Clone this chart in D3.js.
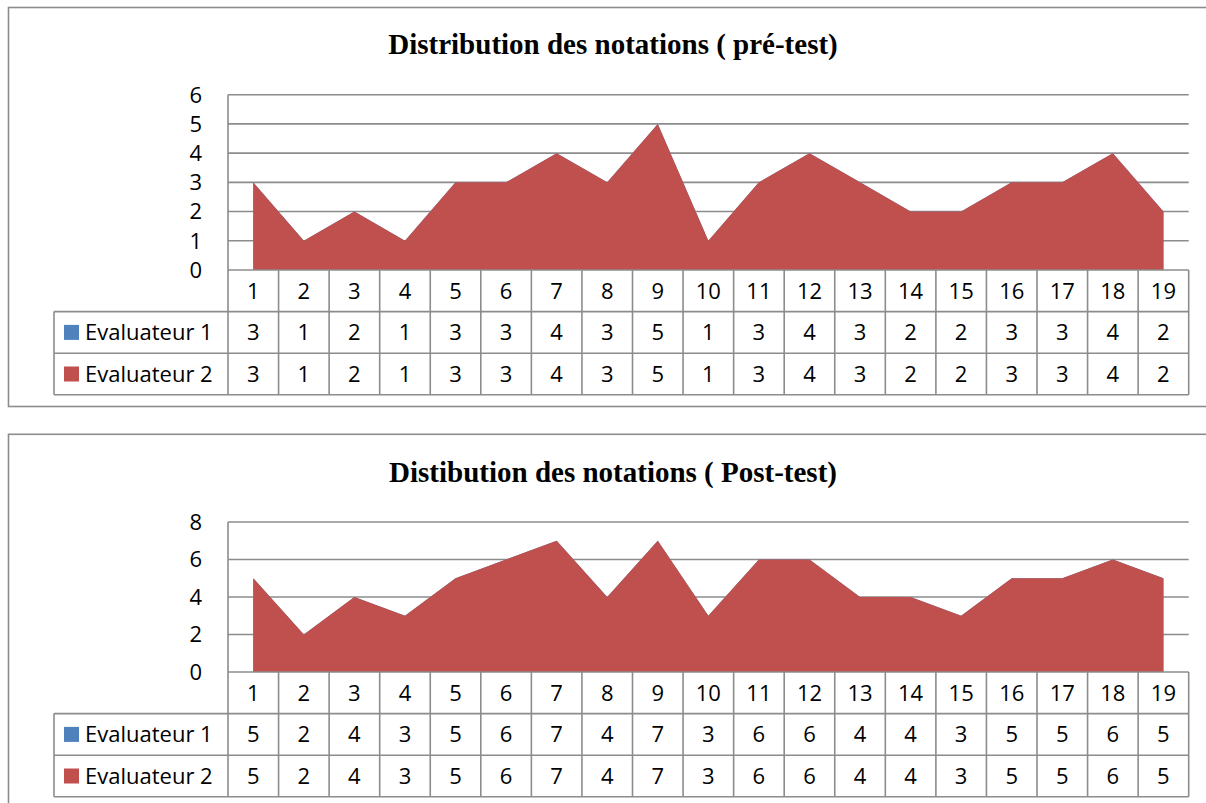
<!doctype html>
<html>
<head>
<meta charset="utf-8">
<style>
body { margin: 0; background: #fff; }
text { font-family: "Open Sans", sans-serif; fill: #000; }
.title { font-family: "Liberation Serif", "Times New Roman", serif; font-weight: bold; font-size: 29px; }
.grid line { stroke: #8c8c8c; stroke-width: 1.6; }
.tbl line { stroke: #8c8c8c; stroke-width: 1.6; }
</style>
<script src="https://d3js.org/d3.v7.min.js"></script>
</head>
<body>
<svg width="1206" height="803"></svg>
<script>

var categories = ["1","2","3","4","5","6","7","8","9","10","11","12","13","14","15","16","17","18","19"];
var seriesNames = ["Evaluateur 1", "Evaluateur 2"];
var seriesColors = ["#4f81bd", "#c0504d"];

var preEval1 = [3,1,2,1,3,3,4,3,5,1,3,4,3,2,2,3,3,4,2];
var preEval2 = [3,1,2,1,3,3,4,3,5,1,3,4,3,2,2,3,3,4,2];
var preTicks = [0,1,2,3,4,5,6];

var postEval1 = [5,2,4,3,5,6,7,4,7,3,6,6,4,4,3,5,5,6,5];
var postEval2 = [5,2,4,3,5,6,7,4,7,3,6,6,4,4,3,5,5,6,5];
var postTicks = [0,2,4,6,8];

var svg = d3.select("svg");
var fs = "22px";

function drawChart(o) {
    var g = svg.append("g");
    // outer frame
    g.append("rect")
     .attr("x", 8.5).attr("y", o.boxTop)
     .attr("width", 1210).attr("height", o.boxH)
     .attr("fill", "none").attr("stroke", "#8c8c8c").attr("stroke-width", 1.6);

    g.append("text").attr("class", "title")
     .attr("x", 613).attr("y", o.titleY)
     .attr("text-anchor", "middle")
     .text(o.title);

    var left = 228, right = 1188.7;
    var x = d3.scaleBand().domain(categories).range([left, right]).padding(0);
    var y = d3.scaleLinear().domain([0, d3.max(o.ticks)]).range([o.plotBottom, o.plotTop]);

    // gridlines
    var grid = g.append("g").attr("class", "grid");
    grid.selectAll("line").data(o.ticks.filter(function(t) { return t > 0; }))
        .enter().append("line")
        .attr("x1", left).attr("x2", right)
        .attr("y1", function(d) { return y(d); })
        .attr("y2", function(d) { return y(d); });

    // y tick labels
    g.selectAll(".ytick").data(o.ticks).enter().append("text")
     .attr("class", "ytick")
     .attr("x", 202).attr("y", function(d) { return y(d); })
     .attr("dy", "0.36em")
     .attr("text-anchor", "end")
     .attr("font-size", fs)
     .text(function(d) { return d; });

    // areas (series 1 behind series 2)
    var series = [o.s1, o.s2];
    series.forEach(function(vals, si) {
        var area = d3.area()
            .x(function(d, i) { return x(categories[i]) + x.bandwidth() / 2; })
            .y0(y(0))
            .y1(function(d) { return y(d); });
        g.append("path").datum(vals)
         .attr("d", area)
         .attr("fill", seriesColors[si]);
    });

    // data table
    var rowH = o.rowH;
    var t0 = o.plotBottom;
    var tbl = g.append("g").attr("class", "tbl");
    var legLeft = 54;
    tbl.append("line").attr("x1", left).attr("x2", right).attr("y1", t0).attr("y2", t0);
    [1, 2, 3].forEach(function(r) {
        tbl.append("line").attr("x1", legLeft).attr("x2", right)
           .attr("y1", t0 + r * rowH).attr("y2", t0 + r * rowH);
    });
    tbl.append("line").attr("x1", left).attr("x2", left).attr("y1", o.plotTop).attr("y2", t0 + 3 * rowH);
    tbl.append("line").attr("x1", legLeft).attr("x2", legLeft).attr("y1", t0 + rowH).attr("y2", t0 + 3 * rowH);
    tbl.selectAll(".vl").data(categories).enter().append("line")
       .attr("x1", function(d) { return x(d) + x.bandwidth(); })
       .attr("x2", function(d) { return x(d) + x.bandwidth(); })
       .attr("y1", t0).attr("y2", t0 + 3 * rowH);

    // header row
    g.selectAll(".cat").data(categories).enter().append("text")
     .attr("x", function(d) { return x(d) + x.bandwidth() / 2; })
     .attr("y", t0 + rowH / 2).attr("dy", "0.36em")
     .attr("text-anchor", "middle").attr("font-size", fs)
     .text(function(d) { return d; });

    series.forEach(function(vals, si) {
        var cy = t0 + rowH * (si + 1) + rowH / 2;
        g.append("rect").attr("x", 64).attr("y", cy - 7.5)
         .attr("width", 15).attr("height", 15).attr("fill", seriesColors[si]);
        g.append("text").attr("x", 85).attr("y", cy).attr("dy", "0.36em")
         .attr("font-size", fs).text(seriesNames[si]);
        g.selectAll(".v" + si).data(vals).enter().append("text")
         .attr("x", function(d, i) { return x(categories[i]) + x.bandwidth() / 2; })
         .attr("y", cy).attr("dy", "0.36em")
         .attr("text-anchor", "middle").attr("font-size", fs)
         .text(function(d) { return d; });
    });
}

drawChart({
    title: "Distribution des notations ( pré-test)",
    boxTop: 7.5, boxH: 399, titleY: 54,
    plotTop: 94.7, plotBottom: 270, rowH: 41.6,
    ticks: preTicks, s1: preEval1, s2: preEval2
});

drawChart({
    title: "Distibution des notations ( Post-test)",
    boxTop: 434.3, boxH: 400, titleY: 482,
    plotTop: 522, plotBottom: 672, rowH: 41.6,
    ticks: postTicks, s1: postEval1, s2: postEval2
});
</script>
</body>
</html>
